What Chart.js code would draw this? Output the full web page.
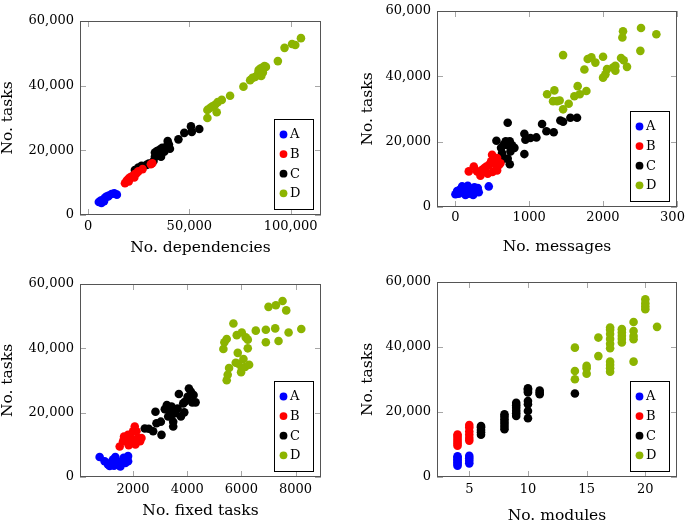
<!DOCTYPE html>
<html>
<head>
<meta charset="utf-8">
<script src="https://cdn.jsdelivr.net/npm/chart.js@4.4.0/dist/chart.umd.min.js"></script>
<style>
  html, body { margin: 0; padding: 0; background: #fff; width: 685px; height: 522px; overflow: hidden; }
  canvas { position: absolute; }
</style>
</head>
<body>
<canvas id="c1" width="340" height="262" style="left:0;top:0"></canvas>
<canvas id="c2" width="345" height="262" style="left:340px;top:0"></canvas>
<canvas id="c3" width="340" height="260" style="left:0;top:262px"></canvas>
<canvas id="c4" width="345" height="270" style="left:340px;top:262px"></canvas>
<script>
// groups shared by all four panels
const groupLabels = ['A', 'B', 'C', 'D'];
const groupColors = ['#0000ff', '#ff0000', '#000000', '#8cb400'];
const yTicks = [0, 20000, 40000, 60000];

// panel 1: No. dependencies vs No. tasks
const depTicks = [0, 50000, 100000];
const depA = [[5300,4000],[6600,3700],[7400,4700],[8300,5300],[9100,5700],[10200,6000],[11600,6500],[12900,6700],[14200,6300],[6300,4500],[7900,4300],[9900,5700]];
const depB = [[18200,9800],[19000,10600],[19800,11100],[20600,11600],[21500,11900],[22300,12100],[23100,12700],[23900,12900],[24800,13500],[26900,14200],[31000,15700],[31700,16000],[20100,10400],[22800,11600]];
const depC = [[23100,13900],[24800,14700],[26400,15200],[28900,15500],[30000,15900],[32300,16700],[33000,18000],[33000,19300],[34000,19800],[35000,18600],[35600,20300],[36000,18000],[36600,20800],[37600,19600],[38900,21300],[39300,22900],[40400,20500],[39900,21800],[44600,23400],[47500,25400],[50800,27400],[51200,25700],[54900,26600]];
const depD = [[58900,30000],[58900,32500],[60200,33100],[61400,33600],[62700,34100],[63500,31800],[64000,34900],[66000,35600],[70100,36900],[76700,39700],[80000,41700],[81200,42400],[82500,42700],[83800,43500],[84200,44800],[85100,45300],[86100,45600],[87100,46100],[87800,45800],[86300,44100],[85500,43000],[93700,47600],[97000,51700],[100700,52900],[102300,52600],[105100,54700]];

// panel 2: No. messages vs No. tasks
const msgTicks = [0, 1000, 2000, 3000];
const msgA = [[0,3900],[23,4900],[68,5400],[113,6000],[167,6500],[181,4100],[212,5200],[258,6000],[303,5800],[316,4500],[240,3700],[136,3700],[452,6300],[90,6300],[45,4100]];
const msgB = [[181,10900],[249,12400],[294,10900],[339,9600],[362,11400],[393,11900],[420,12400],[456,12900],[484,14000],[497,16000],[529,14500],[565,15000],[556,12400],[592,12900],[565,11200],[502,10700],[438,10200],[610,13400]];
const msgC = [[709,25800],[556,20300],[619,18100],[655,19100],[682,20100],[709,18900],[737,20100],[768,18900],[800,18100],[746,17000],[655,14800],[737,13100],[709,14800],[935,22400],[949,20600],[1017,21100],[1098,21300],[935,16200],[1175,25400],[1234,23200],[1333,22900],[1423,26500],[1460,26100],[1559,27300],[1649,27300],[632,16500]];
const msgD = [[1243,34500],[1342,35700],[1324,32400],[1378,32400],[1414,32600],[1460,29900],[1536,31600],[1613,33900],[1658,37000],[1686,34500],[1776,35500],[1460,46500],[1749,42100],[1794,45300],[1844,45800],[1898,44200],[2002,46000],[2002,39600],[2034,40600],[2056,42200],[2137,42700],[2169,43200],[2169,41700],[2246,45600],[2282,44900],[2327,42900],[2264,51900],[2273,53800],[2517,54800],[2508,47800],[2725,52900]];

// panel 3: No. fixed tasks vs No. tasks
const fixTicks = [2000, 4000, 6000, 8000];
const fixA = [[765,6200],[950,4900],[1074,3900],[1173,4400],[1259,5400],[1345,6200],[1407,4900],[1469,3700],[1531,3300],[1592,4900],[1654,6000],[1716,4400],[1778,5600],[1815,6500],[1815,4900],[1136,3400],[1296,3500]];
const fixB = [[1506,9500],[1630,11100],[1667,12600],[1753,11600],[1815,13100],[1877,11100],[1938,12100],[2000,14200],[2062,15700],[2124,14200],[2185,12100],[2259,11100],[2309,12100],[2086,10100],[1839,9900],[2000,10600]];
const fixC = [[2432,15100],[2580,15000],[2741,14200],[2865,16700],[2827,20300],[3050,13100],[3025,17200],[3173,21100],[3247,22400],[3297,18800],[3359,20300],[3420,21900],[3482,17200],[3482,15700],[3420,19300],[3568,19800],[3643,21300],[3692,25800],[3766,18800],[3853,22900],[3914,23400],[4013,24900],[4062,27500],[4136,26500],[4186,23200],[4235,25500],[4309,23200],[3890,20100]];
const fixD = [[5458,30100],[5495,31800],[5545,33900],[5335,39800],[5372,41900],[5458,42900],[5705,47700],[5829,44100],[5890,35200],[5989,32600],[6014,33900],[6076,36700],[6137,34200],[6285,34900],[6014,44900],[6162,43400],[6236,40000],[6236,42700],[6532,45500],[6903,45800],[6903,41900],[7002,52900],[7273,53400],[7520,54700],[7656,51800],[7249,46200],[7372,42300],[7743,44900],[8212,46000],[5866,38600],[5791,35500]];

// panel 4: No. modules vs No. tasks
const modTicks = [5, 10, 15, 20];
const modA = [[4,3500],[4,4000],[4,4500],[4,5000],[4,5500],[4,6000],[4,6400],[5,4200],[5,5000],[5,5800],[5,6500]];
const modB = [[4,9600],[4,10200],[4,10800],[4,11400],[4,12000],[4,12600],[4,13100],[5,11200],[5,12000],[5,13000],[5,14000],[5,15200],[5,16000]];
const modC = [[6,13000],[6,13800],[6,14500],[6,15300],[6,15700],[8,14700],[8,15500],[8,16300],[8,17000],[8,17800],[8,18600],[8,19300],[9,18800],[9,19600],[9,20400],[9,21300],[9,22100],[9,22800],[10,18100],[10,20300],[10,22400],[10,23400],[10,26000],[10,26500],[10,27000],[10,27300],[11,25500],[11,26000],[11,26600],[14,25700]];
const modD = [[14,30100],[14,32600],[14,39800],[15,31800],[15,33500],[15,34200],[16,37200],[16,42900],[17,32400],[17,33500],[17,34500],[17,35500],[17,39600],[17,41000],[17,42500],[17,44000],[17,45300],[17,46000],[18,41400],[18,42500],[18,43500],[18,44500],[18,45500],[19,35500],[19,42400],[19,43400],[19,44900],[19,47700],[20,51600],[20,52500],[20,53500],[20,54700],[21,46200]];

const FONT = '"DejaVu Serif", serif';
const commaFmt = v => Number(v).toLocaleString('en-US');
const plainFmt = v => String(v);

// frame, inward tick marks and the boxed legend, pgfplots style
const framePlugin = {
  id: 'frame',
  beforeDatasetsDraw(chart) {
    const { ctx, chartArea: a, scales: { x, y } } = chart;
    ctx.save();
    ctx.strokeStyle = '#a6a6a6';
    ctx.lineWidth = 1;
    ctx.beginPath();
    x.ticks.forEach(t => {
      const p = Math.round(x.getPixelForValue(t.value)) + 0.5;
      ctx.moveTo(p, a.bottom); ctx.lineTo(p, a.bottom - 6);
      ctx.moveTo(p, a.top); ctx.lineTo(p, a.top + 6);
    });
    y.ticks.forEach(t => {
      const p = Math.round(y.getPixelForValue(t.value)) + 0.5;
      ctx.moveTo(a.left, p); ctx.lineTo(a.left + 6, p);
      ctx.moveTo(a.right, p); ctx.lineTo(a.right - 6, p);
    });
    ctx.stroke();
    ctx.restore();
  },
  afterDatasetsDraw(chart) {
    const { ctx, chartArea: a } = chart;
    ctx.save();
    ctx.strokeStyle = '#555';
    ctx.lineWidth = 1;
    ctx.strokeRect(Math.round(a.left) + 0.5, Math.round(a.top) + 0.5, Math.round(a.width) - 1, Math.round(a.height) - 1);
    const bw = 39, bh = 90;
    const bx = Math.round(a.right - 8.5 - bw), by = Math.round(a.bottom - 6 - bh);
    ctx.fillStyle = '#fff';
    ctx.fillRect(bx, by, bw, bh);
    ctx.strokeStyle = '#000';
    ctx.strokeRect(bx + 0.5, by + 0.5, bw, bh);
    ctx.font = '13px ' + FONT;
    ctx.textAlign = 'left';
    ctx.textBaseline = 'middle';
    chart.data.datasets.forEach((ds, i) => {
      const cy = by + 15.5 + i * 19.6;
      ctx.fillStyle = ds.backgroundColor;
      ctx.beginPath();
      ctx.arc(bx + 9.5, cy, 3.9, 0, Math.PI * 2);
      ctx.fill();
      ctx.fillStyle = '#000';
      ctx.fillText(ds.label, bx + 16, cy + 0.5);
    });
    ctx.restore();
  }
};

function makeChart(id, series, xTicks, xMin, xMax, xTitle, fmtX, g) {
  const datasets = series.map((pts, i) => ({
    label: groupLabels[i],
    data: pts.map(p => ({ x: p[0], y: p[1] })),
    backgroundColor: groupColors[i],
    borderColor: groupColors[i],
    borderWidth: 0,
    pointRadius: 4.3
  }));
  return new Chart(document.getElementById(id), {
    type: 'scatter',
    data: { datasets },
    plugins: [framePlugin],
    options: {
      responsive: false,
      devicePixelRatio: 1,
      animation: false,
      layout: { padding: { top: g.top, right: g.right, left: 0, bottom: 0 } },
      plugins: { legend: { display: false }, tooltip: { enabled: false } },
      scales: {
        x: {
          type: 'linear', min: xMin, max: xMax,
          grid: { display: false, drawTicks: false },
          border: { display: false },
          afterBuildTicks: s => { s.ticks = xTicks.map(v => ({ value: v })); },
          afterFit: s => { s.height = g.xh; s.paddingLeft = 0; s.paddingRight = 0; },
          ticks: { color: '#000', padding: g.xtp, maxRotation: 0, font: { family: FONT, size: 13 }, callback: fmtX },
          title: { display: true, text: xTitle, color: '#000', padding: { top: 0, bottom: g.xtt },
                   font: { family: FONT, size: 15.5, lineHeight: 1 } }
        },
        y: {
          type: 'linear', min: 0, max: 60000,
          grid: { display: false, drawTicks: false },
          border: { display: false },
          afterBuildTicks: s => { s.ticks = yTicks.map(v => ({ value: v })); },
          afterFit: s => { s.width = g.yw; s.paddingTop = 0; s.paddingBottom = 0; },
          ticks: { color: '#000', padding: 6, font: { family: FONT, size: 13 }, callback: commaFmt },
          title: { display: true, text: 'No. tasks', color: '#000', padding: { top: g.ytt, bottom: 0 },
                   font: { family: FONT, size: 15.5, lineHeight: 1 } }
        }
      }
    }
  });
}

makeChart('c1', [depA, depB, depC, depD], depTicks, -4000, 115000, 'No. dependencies', commaFmt,
  { top: 21, right: 19, yw: 80, xh: 47, xtp: 4, xtt: 6.25, ytt: 0.25 });
makeChart('c2', [msgA, msgB, msgC, msgD], msgTicks, -250, 3005, 'No. messages', plainFmt,
  { top: 11, right: 8, yw: 97, xh: 55, xtp: 3, xtt: 7.25, ytt: 20.25 });
makeChart('c3', [fixA, fixB, fixC, fixD], fixTicks, 40, 8940, 'No. fixed tasks', plainFmt,
  { top: 22, right: 19, yw: 80, xh: 45, xtp: 5, xtt: 3.5, ytt: 0.25 });
makeChart('c4', [modA, modB, modC, modD], modTicks, 2.25, 22.7, 'No. modules', plainFmt,
  { top: 20, right: 8, yw: 97, xh: 55, xtp: 5, xtt: 8.25, ytt: 20.25 });
</script>
</body>
</html>
